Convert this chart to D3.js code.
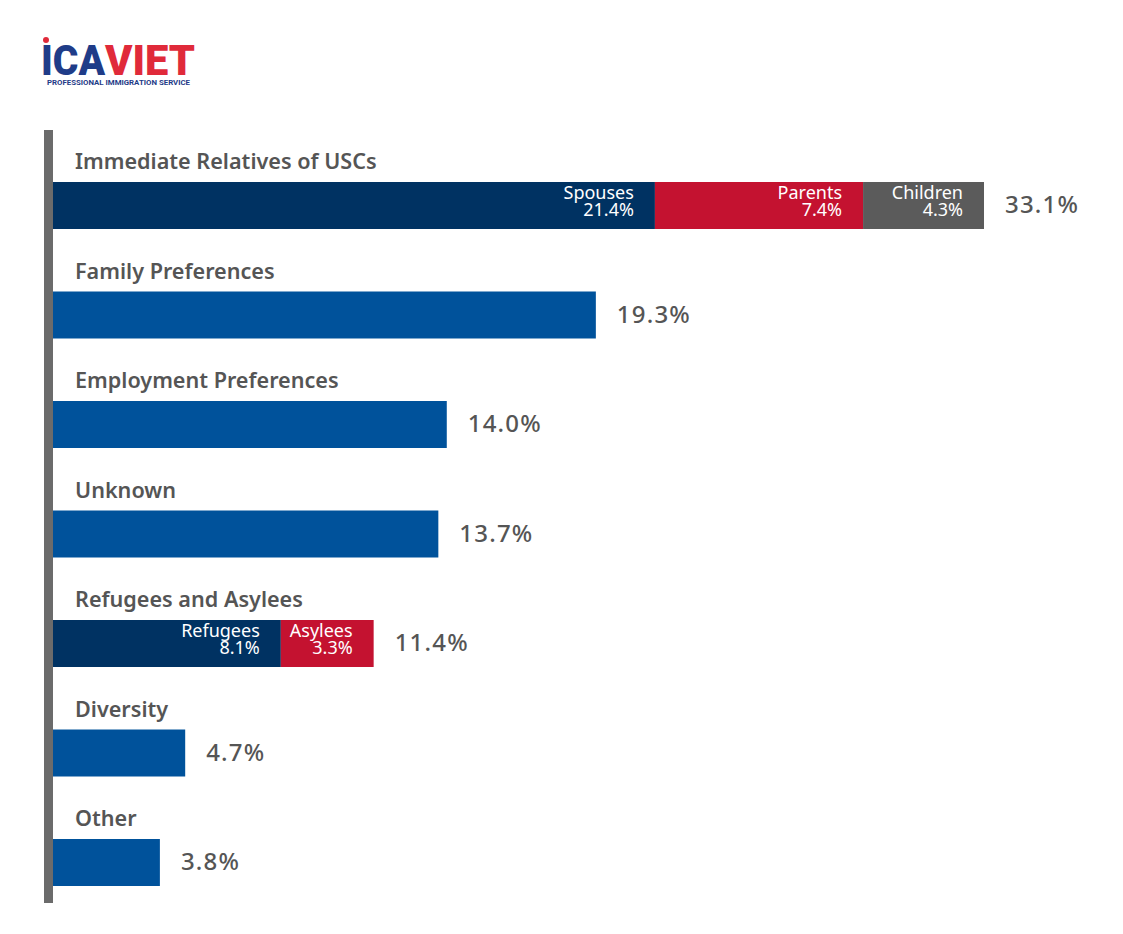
<!DOCTYPE html>
<html>
<head>
<meta charset="utf-8">
<script src="https://cdn.jsdelivr.net/npm/d3@7"></script>
<style>
  html, body { margin: 0; padding: 0; background: #fff; }
  svg { display: block; }
</style>
</head>
<body>
<svg id="chart" width="1123" height="934"></svg>
<script>
const categories = ["Immediate Relatives of USCs", "Family Preferences", "Employment Preferences", "Unknown", "Refugees and Asylees", "Diversity", "Other"];
const totals = [33.1, 19.3, 14.0, 13.7, 11.4, 4.7, 3.8];
const relativesParts = ["Spouses", "Parents", "Children"];
const relativesValues = [21.4, 7.4, 4.3];
const refugeeParts = ["Refugees", "Asylees"];
const refugeeValues = [8.1, 3.3];

const segColors = ["#003262", "#C41230", "#5B5B5B"];
const barColor = "#00529B";
const textGray = "#555555";
const font = "'Noto Sans', sans-serif";

const svg = d3.select("#chart");
const left = 53;

const x = d3.scaleLinear().domain([0, 33.1]).range([0, 931]);
const y = d3.scaleBand().domain(categories).range([182, 886]).paddingInner(0.5708).paddingOuter(0);

// logo
const logo = svg.append("g");
logo.append("circle").attr("cx", 46).attr("cy", 40).attr("r", 3).attr("fill", "#E02A3A");
const lt = logo.append("text")
  .attr("font-family", "'Roboto', sans-serif").attr("font-weight", 900);
lt.append("tspan").attr("x", 41).attr("y", 75).attr("font-size", 42).attr("fill", "#1F3C88")
  .attr("textLength", 64).attr("lengthAdjust", "spacingAndGlyphs").text("ICA");
lt.append("tspan").attr("x", 105).attr("y", 75).attr("font-size", 42).attr("fill", "#E02A3A")
  .attr("textLength", 90).attr("lengthAdjust", "spacingAndGlyphs").text("VIET");
lt.append("tspan").attr("x", 47).attr("y", 85).attr("font-size", 6.5).attr("font-weight", 700).attr("fill", "#1F3C88")
  .attr("textLength", 143).attr("lengthAdjust", "spacingAndGlyphs")
  .text("PROFESSIONAL IMMIGRATION SERVICE");

// vertical axis line
svg.append("rect").attr("x", 44).attr("y", 130).attr("width", 9).attr("height", 773).attr("fill", "#6B6B6B");

const rows = svg.append("g").selectAll("g").data(categories).join("g")
  .attr("transform", d => `translate(0,${y(d)})`);

rows.append("text")
  .attr("x", 75).attr("y", -13)
  .attr("font-family", font).attr("font-weight", 600).attr("font-size", 21.6)
  .attr("fill", textGray)
  .text(d => d);

function stacked(g, names, values) {
  let acc = 0;
  names.forEach((n, i) => {
    const x0 = left + x(acc);
    acc += values[i];
    const x1 = left + x(acc);
    g.append("rect").attr("x", x0).attr("y", 0).attr("width", x1 - x0).attr("height", y.bandwidth()).attr("fill", segColors[i]);
    const t = g.append("text").attr("text-anchor", "end")
      .attr("font-family", font).attr("font-size", 18).attr("fill", "#fff");
    t.append("tspan").attr("x", x1 - 21).attr("y", 16.5).text(n);
    t.append("tspan").attr("x", x1 - 21).attr("y", 33.5).text(values[i].toFixed(1) + "%");
  });
}

rows.each(function(d, i) {
  const g = d3.select(this);
  if (i === 0) stacked(g, relativesParts, relativesValues);
  else if (i === 4) stacked(g, refugeeParts, refugeeValues);
  else g.append("rect").attr("x", left).attr("y", 0).attr("width", x(totals[i])).attr("height", y.bandwidth()).attr("fill", barColor);
  g.append("text").attr("x", left + x(totals[i]) + 21).attr("y", y.bandwidth() / 2 + 8)
    .attr("font-family", font).attr("font-weight", 500).attr("font-size", 24).attr("letter-spacing", 1.2)
    .attr("fill", textGray)
    .text(totals[i].toFixed(1) + "%");
});
</script>
</body>
</html>
